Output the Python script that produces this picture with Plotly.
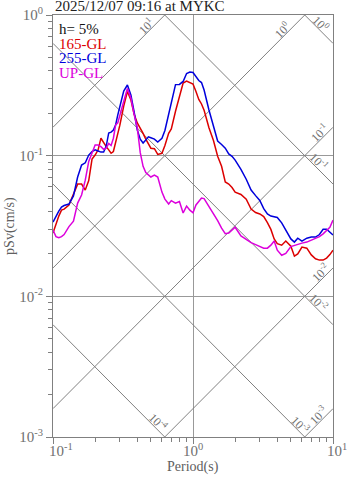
import numpy as np
import plotly.graph_objects as go

# Pseudo-velocity response spectra (h = 5%), period in s, pSv in cm/s
periods = [0.10, 0.105, 0.11, 0.115, 0.12, 0.13, 0.14, 0.15, 0.16, 0.17,
           0.18, 0.19, 0.20, 0.21, 0.22, 0.23, 0.24, 0.25, 0.26, 0.27,
           0.28, 0.29, 0.30, 0.32, 0.34, 0.36, 0.38, 0.40, 0.42, 0.44,
           0.46, 0.48, 0.50, 0.53, 0.56, 0.60, 0.63, 0.67, 0.70, 0.75,
           0.80, 0.85, 0.90, 0.95, 1.0, 1.05, 1.1, 1.15, 1.2, 1.3,
           1.4, 1.5, 1.6, 1.7, 1.8, 1.9, 2.0, 2.2, 2.4, 2.6,
           2.8, 3.0, 3.2, 3.4, 3.6, 3.8, 4.0, 4.3, 4.6, 5.0,
           5.3, 5.6, 6.0, 6.5, 7.0, 7.5, 8.0, 8.5, 9.0, 9.5, 10.0]

sv_165_gl = [0.0282, 0.0330, 0.0372, 0.0410, 0.0417, 0.0446, 0.0537, 0.0628, 0.0628, 0.0569,
             0.0665, 0.0946, 0.101, 0.110, 0.133, 0.123, 0.116, 0.110, 0.104, 0.107,
             0.124, 0.140, 0.164, 0.225, 0.286, 0.249, 0.197, 0.171, 0.158, 0.144,
             0.131, 0.122, 0.113, 0.112, 0.102, 0.104, 0.118, 0.144, 0.155, 0.207,
             0.257, 0.328, 0.339, 0.331, 0.323, 0.286, 0.251, 0.233, 0.210, 0.158,
             0.128, 0.099, 0.084, 0.065, 0.0628, 0.0594, 0.055, 0.053, 0.049, 0.0417,
             0.0394, 0.0385, 0.0369, 0.0334, 0.0299, 0.0256, 0.0237, 0.0231, 0.0247, 0.0227,
             0.0193, 0.0200, 0.0224, 0.0220, 0.0197, 0.0185, 0.0181, 0.0181, 0.0187, 0.0198, 0.0213]

sv_255_gl = [0.0337, 0.0372, 0.0403, 0.0431, 0.0442, 0.0453, 0.0517, 0.0705, 0.0858, 0.089,
             0.101, 0.107, 0.110, 0.108, 0.106, 0.106, 0.117, 0.145, 0.147, 0.152,
             0.165, 0.194, 0.221, 0.288, 0.318, 0.270, 0.204, 0.152, 0.131, 0.123,
             0.129, 0.136, 0.134, 0.131, 0.125, 0.133, 0.151, 0.197, 0.249, 0.320,
             0.321, 0.337, 0.384, 0.393, 0.390, 0.365, 0.342, 0.331, 0.293, 0.211,
             0.161, 0.127, 0.120, 0.113, 0.103, 0.099, 0.093, 0.080, 0.068, 0.057,
             0.052, 0.048, 0.042, 0.0385, 0.0372, 0.0366, 0.0364, 0.0333, 0.0296, 0.0256,
             0.0243, 0.0259, 0.0247, 0.0259, 0.0264, 0.0264, 0.0275, 0.0300, 0.0300, 0.0284, 0.0273]

sv_up_gl = [0.0296, 0.0266, 0.0261, 0.0266, 0.0275, 0.0313, 0.0342, 0.0460, 0.0525, 0.0670,
            0.091, 0.104, 0.119, 0.119, 0.116, 0.111, 0.113, 0.122, 0.118, 0.133,
            0.165, 0.171, 0.191, 0.243, 0.300, 0.257, 0.196, 0.158, 0.105, 0.084,
            0.0758, 0.0726, 0.0705, 0.0728, 0.0705, 0.0551, 0.0491, 0.0453, 0.0479, 0.0460,
            0.0472, 0.0391, 0.0438, 0.0410, 0.0393, 0.0446, 0.0475, 0.0500, 0.0495, 0.0438,
            0.0385, 0.0345, 0.0305, 0.0279, 0.0282, 0.0296, 0.0310, 0.0269, 0.0253, 0.0241,
            0.0233, 0.0226, 0.0220, 0.0220, 0.0231, 0.0247, 0.0213, 0.0196, 0.0202, 0.0226,
            0.0231, 0.0235, 0.0239, 0.0243, 0.0251, 0.0257, 0.0266, 0.0278, 0.0293, 0.0310, 0.0348]

series_names = ["165-GL", "255-GL", "UP-GL"]
series_colors = ["#dc0000", "#0000dc", "#dc00dc"]

# Tripartite guide lines: constant pseudo-acceleration (cm/s^2) and displacement (cm)
accel_levels = [1e-3, 1e-2, 1e-1, 1.0, 10.0]
disp_levels = [1e-4, 1e-3, 1e-2, 1e-1, 1.0]

x_tick_vals = [0.1, 1.0, 10.0]
x_tick_text = ["10<sup>-1</sup>", "10<sup>0</sup>", "10<sup>1</sup>"]
y_tick_vals = [1e-3, 1e-2, 1e-1, 1.0]
y_tick_text = ["10<sup>-3</sup>", "10<sup>-2</sup>", "10<sup>-1</sup>", "10<sup>0</sup>"]

title_text = "2025/12/07 09:16 at MYKC"
damping_text = "h= 5%"
x_title = "Period(s)"
y_title = "pSv(cm/s)"

SERIF = "Liberation Serif, Times New Roman, serif"
GRAY = "#808080"
TWO_PI = 2 * np.pi

fig = go.Figure()

t_ends = np.array([0.1, 10.0])
for a in accel_levels:
    fig.add_trace(go.Scatter(x=t_ends, y=a * t_ends / TWO_PI, mode="lines",
                             line=dict(color=GRAY, width=1), hoverinfo="skip",
                             showlegend=False))
for d in disp_levels:
    fig.add_trace(go.Scatter(x=t_ends, y=TWO_PI * d / t_ends, mode="lines",
                             line=dict(color=GRAY, width=1), hoverinfo="skip",
                             showlegend=False))

for name, sv, color in zip(series_names, [sv_165_gl, sv_255_gl, sv_up_gl], series_colors):
    fig.add_trace(go.Scatter(x=periods, y=sv, mode="lines", name=name,
                             line=dict(color=color, width=1.5), showlegend=False))

annotations = []

# labels on the guide lines: (kind, level, period of the anchor point on the line)
guide_labels = [
    ("a", 10.0, 0.49), ("a", 1.0, 4.6), ("d", 1.0, 7.65),
    ("a", 1e-1, 8.6), ("d", 1e-1, 7.4),
    ("a", 1e-2, 8.7), ("d", 1e-2, 7.4),
    ("a", 1e-3, 8.35), ("d", 1e-3, 5.45),
    ("d", 1e-4, 0.53),
]
for kind, level, t in guide_labels:
    p = int(round(np.log10(level)))
    sv = level * t / TWO_PI if kind == "a" else TWO_PI * level / t
    annotations.append(dict(
        x=np.log10(t), y=np.log10(sv), xref="x", yref="y",
        text="10<sup>%d</sup>" % p, showarrow=False,
        textangle=-45 if kind == "a" else 45,
        xshift=-4 if kind == "a" else 4, yshift=4,
        font=dict(family=SERIF, size=12, color="#707070"),
    ))

# x tick labels
x_label_offsets = [8, 0, 4]
for v, txt, off in zip(x_tick_vals, x_tick_text, x_label_offsets):
    annotations.append(dict(
        x=np.log10(v), y=-0.031, xref="x", yref="paper", text=txt,
        showarrow=False, xanchor="center", yanchor="middle", xshift=off,
        font=dict(family=SERIF, size=15, color="#707070"),
    ))

# title and in-plot legend
annotations.append(dict(x=0, y=1.0215, xref="paper", yref="paper", text=title_text,
                        showarrow=False, xanchor="left", yanchor="middle",
                        font=dict(family=SERIF, size=15, color="#222222")))
legend_rows = [(damping_text, "#111111")] + list(zip(series_names, series_colors))
for i, (txt, col) in enumerate(legend_rows):
    annotations.append(dict(x=0.016, y=1 - (14 + 14.6 * i) / 422, xref="paper", yref="paper",
                            text=txt, showarrow=False, xanchor="left", yanchor="middle",
                            font=dict(family=SERIF, size=15, color=col)))

# axis titles
annotations.append(dict(x=0.5, y=-0.072, xref="paper", yref="paper", text=x_title,
                        showarrow=False, xanchor="center", yanchor="middle",
                        font=dict(family=SERIF, size=14, color="#606060")))
annotations.append(dict(x=-0.154, y=0.5, xref="paper", yref="paper", text=y_title,
                        showarrow=False, xanchor="center", yanchor="middle", textangle=-90,
                        font=dict(family=SERIF, size=14, color="#606060")))


def minor_vals(lo, hi):
    vals = []
    for e in range(lo, hi):
        vals += [k * 10.0 ** e for k in range(2, 10)]
    return vals


axis_common = dict(
    type="log", showline=True, linecolor=GRAY, linewidth=1, mirror=True,
    showgrid=True, gridcolor="#999999", gridwidth=1, zeroline=False,
    ticks="outside", ticklen=6, tickcolor=GRAY, tickmode="array",
    automargin=False,
)

fig.update_layout(
    width=347, height=478,
    margin=dict(l=53, r=14, t=15, b=41, autoexpand=False),
    paper_bgcolor="white", plot_bgcolor="white",
    showlegend=False,
    xaxis=dict(range=[-1, 1], tickvals=x_tick_vals, showticklabels=False,
               minor=dict(tickvals=minor_vals(-1, 1), ticks="outside", ticklen=4,
                          tickcolor=GRAY, showgrid=False),
               **axis_common),
    yaxis=dict(range=[-3, 0], tickvals=y_tick_vals, ticktext=y_tick_text,
               tickfont=dict(family=SERIF, size=15, color="#707070"),
               minor=dict(tickvals=minor_vals(-3, 0), ticks="outside", ticklen=4,
                          tickcolor=GRAY, showgrid=False),
               **axis_common),
    annotations=annotations,
)

fig.write_html("out.html")
